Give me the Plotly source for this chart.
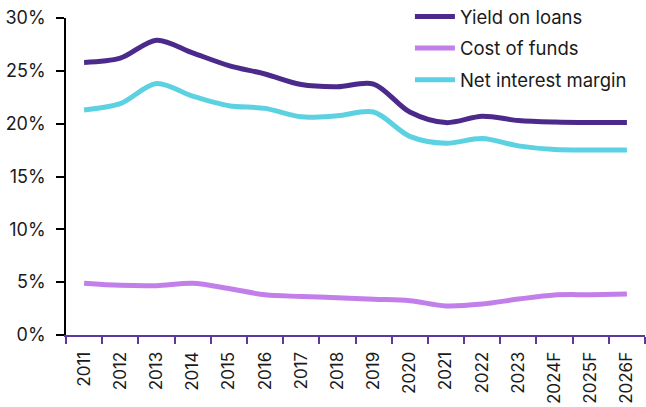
import plotly.graph_objects as go

years = ["2011", "2012", "2013", "2014", "2015", "2016", "2017", "2018", "2019",
         "2020", "2021", "2022", "2023", "2024F", "2025F", "2026F"]
yield_on_loans = [25.8, 26.2, 27.9, 26.7, 25.5, 24.7, 23.7, 23.5, 23.75, 21.1, 20.1,
                  20.7, 20.3, 20.15, 20.1, 20.1]
cost_of_funds = [4.9, 4.7, 4.67, 4.9, 4.4, 3.8, 3.65, 3.53, 3.38, 3.25, 2.75, 2.93,
                 3.4, 3.79, 3.82, 3.88]
net_interest_margin = [21.3, 21.9, 23.8, 22.6, 21.7, 21.45, 20.65, 20.75, 21.1, 18.8,
                       18.15, 18.6, 17.9, 17.55, 17.5, 17.5]
y_ticks = [0, 5, 10, 15, 20, 25, 30]
y_tick_labels = ["0%", "5%", "10%", "15%", "20%", "25%", "30%"]

series = [
    ("Yield on loans", yield_on_loans, "#4B2A8B"),
    ("Cost of funds", cost_of_funds, "#C27FE9"),
    ("Net interest margin", net_interest_margin, "#5CD1E1"),
]

fig = go.Figure()
for i, (name, vals, color) in enumerate(series):
    fig.add_trace(go.Scatter(
        x=years, y=vals, name=name, mode="lines",
        line=dict(color=color, width=5, shape="spline", smoothing=0.9),
        legendgroup=str(i),
    ))

font_family = "Inter, Roboto, Arial, sans-serif"
fig.update_layout(
    width=646, height=407,
    margin=dict(l=66, r=1, t=18, b=72, autoexpand=False),
    paper_bgcolor="white", plot_bgcolor="white",
    font=dict(family=font_family, size=18, color="#1a1a1a"),
    showlegend=True,
    legend=dict(
        x=0.594, y=1.063, xanchor="left", yanchor="top",
        bgcolor="rgba(0,0,0,0)", font=dict(size=18.5, color="#1a1a1a"),
        traceorder="grouped", tracegroupgap=4.5, itemwidth=40,
    ),
    xaxis=dict(
        type="category", tickangle=-90, tickson="boundaries",
        showline=True, linecolor="#5B3A9E", linewidth=2,
        ticks="outside", tickcolor="#5B3A9E", ticklen=7, tickwidth=2,
        showgrid=False, zeroline=False, range=[-0.5, 15.5],
        tickfont=dict(size=17, color="#1a1a1a"), ticklabelstandoff=8,
        automargin=False,
    ),
    yaxis=dict(
        range=[0, 30], tickvals=y_ticks, ticktext=y_tick_labels,
        showline=True, linecolor="#000000", linewidth=1.5,
        ticks="outside", tickcolor="#000000", ticklen=8, tickwidth=1.5,
        showgrid=False, zeroline=False,
        tickfont=dict(size=18, color="#1a1a1a"), ticklabelstandoff=7,
        automargin=False,
    ),
)

fig.write_html("out.html", config={"displayModeBar": False},
               post_script="document.body.style.margin='0';document.body.style.overflow='hidden';")
